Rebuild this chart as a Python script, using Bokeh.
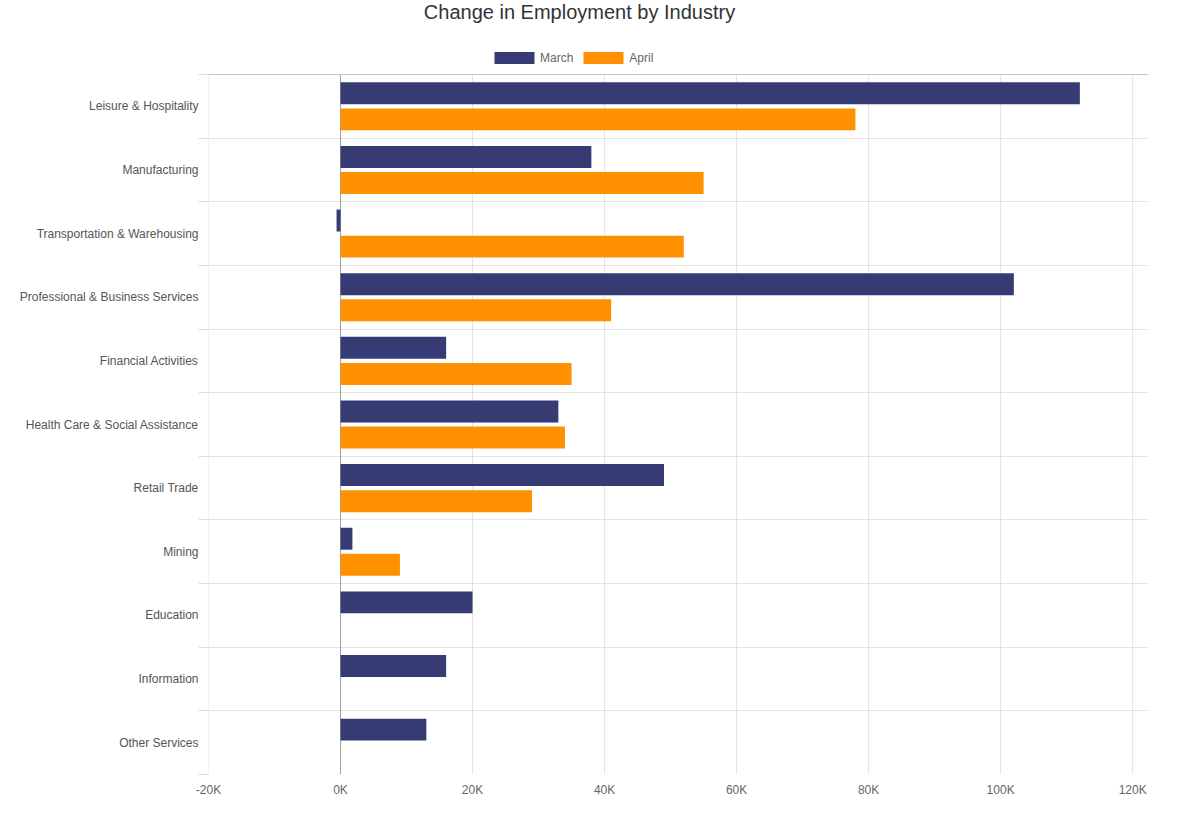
import numpy as np
from bokeh.plotting import figure
from bokeh.models import (ColumnDataSource, FixedTicker, Legend, LegendItem, Label)
from bokeh.embed import file_html
from bokeh.resources import INLINE

industries = ["Leisure & Hospitality", "Manufacturing", "Transportation & Warehousing",
              "Professional & Business Services", "Financial Activities",
              "Health Care & Social Assistance", "Retail Trade", "Mining",
              "Education", "Information", "Other Services"]
march = [112000, 38000, -600, 102000, 16000, 33000, 49000, 1800, 20000, 16000, 13000]
april = [78000, 55000, 52000, 41000, 35000, 34000, 29000, 9000, 0, 0, 0]
x_ticks = [-20000, 0, 20000, 40000, 60000, 80000, 100000, 120000]
x_tick_labels = ["-20K", "0K", "20K", "40K", "60K", "80K", "100K", "120K"]
title_text = "Change in Employment by Industry"

FONT = "Liberation Sans"
n = len(industries)
pos = np.arange(n)[::-1].astype(float)  # first industry at top
top = n - 0.5
band_px = 700 / n
extra = 74 / band_px  # header room (title + legend) above the bars

src = ColumnDataSource(dict(ym=pos + 0.205, ya=pos - 0.205,
                            march=march, april=april, name=industries))

p = figure(width=1176, height=800, output_backend="svg", toolbar_location=None,
           x_range=(-20000, 122400), y_range=(-0.5, top + extra),
           min_border_left=208, min_border_right=28, min_border_bottom=26,
           min_border_top=0, outline_line_color=None)

# vertical grid lines restricted to the bar area
gsrc = ColumnDataSource(dict(x=x_ticks, y0=[-0.5] * len(x_ticks), y1=[top] * len(x_ticks)))
p.segment(x0="x", y0="y0", x1="x", y1="y1", source=gsrc, line_color="#e3e3e3", line_width=1)
p.segment(x0=[0], y0=[-0.5], x1=[0], y1=[top], line_color="#a0a0a0", line_width=1)
p.segment(x0=[x_ticks[0]], y0=[top], x1=[122400], y1=[top], line_color="#c4c4c4", line_width=1)

rm = p.hbar(y="ym", right="march", left=0, height=0.345, source=src,
            fill_color="#373b74", line_color=None)
ra = p.hbar(y="ya", right="april", left=0, height=0.345, source=src,
            fill_color="#ff9000", line_color=None)

# axes
p.xaxis.ticker = FixedTicker(ticks=x_ticks)
p.xaxis.major_label_overrides = {t: l for t, l in zip(x_ticks, x_tick_labels)}
p.xaxis.axis_line_color = None
p.xaxis.major_tick_line_color = None
p.xaxis.minor_tick_line_color = None
p.xaxis.major_tick_out = 0
p.xaxis.major_label_standoff = 8
p.xaxis.major_label_text_font = FONT
p.xaxis.major_label_text_font_size = "12px"
p.xaxis.major_label_text_color = "#666666"

bounds = list(np.arange(-0.5, n, 1.0))
p.yaxis.ticker = FixedTicker(ticks=list(pos), minor_ticks=bounds)
p.yaxis.major_label_overrides = {float(y): nm for y, nm in zip(pos, industries)}
p.yaxis.axis_line_color = None
p.yaxis.major_tick_line_color = None
p.yaxis.major_tick_out = 0
p.yaxis.minor_tick_out = 10
p.yaxis.minor_tick_in = 0
p.yaxis.minor_tick_line_color = "#dddddd"
p.yaxis.major_label_standoff = 0
p.yaxis.major_label_text_font = FONT
p.yaxis.major_label_text_font_size = "12px"
p.yaxis.major_label_text_color = "#555555"

p.xgrid.grid_line_color = None
p.ygrid.ticker = FixedTicker(ticks=bounds[:-1])
p.ygrid.grid_line_color = "#e3e3e3"

legend = Legend(items=[LegendItem(label="March", renderers=[rm]),
                       LegendItem(label="April", renderers=[ra])],
                orientation="horizontal", location=(281, 709),
                glyph_width=50, glyph_height=15, label_standoff=1, spacing=5,
                padding=0, margin=0, border_line_color=None, background_fill_alpha=0,
                label_text_font=FONT, label_text_font_size="12px",
                label_text_color="#666666", label_height=15)
p.add_layout(legend)

p.add_layout(Label(x=371, y=763, x_units="screen", y_units="screen", text=title_text,
                   text_align="center", text_baseline="alphabetic",
                   text_font=FONT, text_font_size="20px", text_color="#333333"))

open("out.html", "w").write(file_html(p, INLINE))
